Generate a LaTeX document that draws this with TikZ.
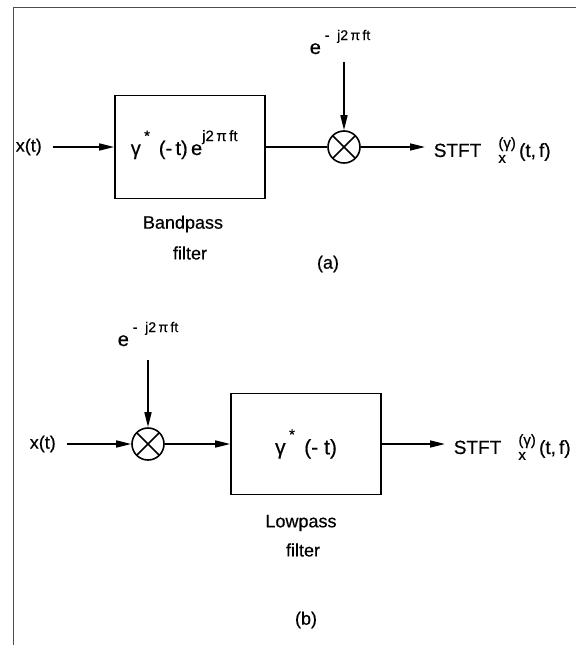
\documentclass[tikz,border=0pt]{standalone}
\usepackage{fontspec}
\setmainfont{Liberation Sans}[FakeBold=0.5]
\usetikzlibrary{arrows.meta}
\newcommand{\myup}[2][13]{\raisebox{0.7em}{\fontsize{#1}{#1}\selectfont #2}}
\newcommand{\stftlbl}{STFT\hspace{0.9em}\makebox[0pt][l]{\raisebox{-6pt}{\fontsize{15}{15}\selectfont x}}\raisebox{9pt}{\fontsize{15}{15}\selectfont (γ)}\,(t,\,f)}
\newcommand{\expmj}{e\myup[14]{\ -\ \ j2\,π\,ft}}
\begin{document}
\begin{tikzpicture}[x=1pt,y=-1pt,line width=1.6pt,
  arr/.style={-{Triangle[length=15pt,width=7pt]}},
  blk/.style={draw,minimum width=150pt,minimum height=103pt,inner sep=0pt},
  mult/.style={draw,circle,minimum size=32pt,inner sep=0pt,
    path picture={\draw[line width=1.5pt] (path picture bounding box.south west) -- (path picture bounding box.north east)
      (path picture bounding box.north west) -- (path picture bounding box.south east);}},
  lbl/.style={font=\fontsize{18}{20}\selectfont,inner sep=0pt},
  frame/.style={line width=1pt,black!70}
]
\useasboundingbox (0,0) rectangle (576,645);
% frame
\draw[frame] (576,7.5) -- (13,7.5) -- (13,645);

% ---------- (a) ----------
\node[lbl,anchor=west] (xa) at (15,147) {x(t)};
\node[blk] (boxa) at (190,147) {};
\node[lbl,anchor=base west] (fa) at (130,155) {\fontsize{20}{22}\selectfont γ\,\myup[15]{*}\ \,(-\,t)\,e\myup[15]{j2\,π\,ft}};
\node[mult] (ma) at (344,147) {};
\node[lbl,anchor=base west] (ea) at (309,54) {\fontsize{20}{22}\selectfont\expmj};
\coordinate (ta) at (344,62);
\node[lbl,anchor=west] (sa) at (433,150) {\fontsize{19}{21}\selectfont\stftlbl};
\draw[arr,shorten <=10pt] (xa) -- (boxa);
\draw (boxa) -- (ma);
\draw[arr] (ta) -- (ma);
\draw[arr,shorten >=8pt] (ma) -- (ma -| sa.west);
\node[lbl] (bpa) at (183,224) {Bandpass};
\node[lbl] (bpb) at (190,253) {filter};
\node[lbl] (capa) at (328,264) {(a)};

% ---------- (b) ----------
\node[lbl,anchor=west] (xb) at (29,444) {x(t)};
\node[mult] (mb) at (148,444) {};
\node[lbl,anchor=base west] (eb) at (117,346) {\fontsize{20}{22}\selectfont\expmj};
\coordinate (tb) at (148,360);
\node[blk,minimum height=101pt] (boxb) at (306,444) {\fontsize{21}{23}\selectfont γ\,\myup[15]{*}\ \,(-\ t)};
\node[lbl,anchor=west] (sb) at (453,447) {\fontsize{19}{21}\selectfont\stftlbl};
\draw[arr,shorten <=10pt] (xb) -- (mb);
\draw[arr] (tb) -- (mb);
\draw[arr] (mb) -- (boxb);
\draw[arr,shorten >=8pt] (boxb) -- (boxb -| sb.west);
\node[lbl] (lpa) at (301,523) {Lowpass};
\node[lbl] (lpb) at (303,550) {filter};
\node[lbl] (capb) at (306,620) {(b)};
\end{tikzpicture}
\end{document}
